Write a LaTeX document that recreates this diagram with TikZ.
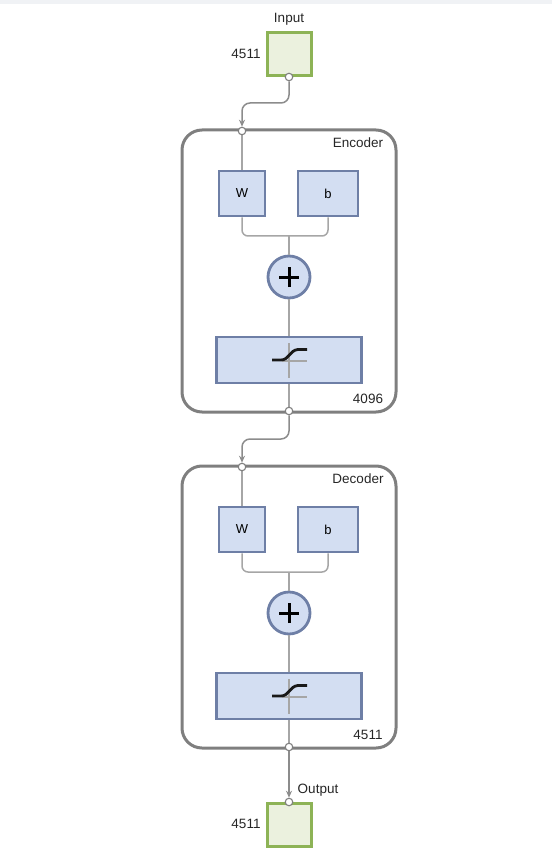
\documentclass[tikz,border=0pt]{standalone}
\usepackage{fontspec}
\setmainfont{Liberation Sans}
\usetikzlibrary{arrows.meta}
\definecolor{iofill}{HTML}{EBF1DE}
\definecolor{ioedge}{HTML}{8DB356}
\definecolor{bfill}{HTML}{D3DEF2}
\definecolor{bedge}{HTML}{6E7FA6}
\definecolor{frame}{HTML}{7F7F7F}
\definecolor{wire}{HTML}{A6A6A6}
\definecolor{topbar}{HTML}{F0F2F5}
\tikzset{
  x=1pt,y=-1pt,
  iobox/.style={draw=ioedge,fill=iofill,line width=3pt,minimum width=44pt,minimum height=43pt,inner sep=0pt},
  layerbox/.style={draw=frame,line width=3pt,rounded corners=20pt,inner sep=0pt},
  blk/.style={draw=bedge,fill=bfill,line width=2.8pt,inner sep=0pt,font=\fontsize{13pt}{15pt}\selectfont},
  plusnode/.style={circle,draw=bedge,fill=bfill,line width=2.8pt,minimum size=42pt,inner sep=0pt},
  wireline/.style={draw=wire,line width=1.5pt},
  conn/.style={draw=frame!90,line width=1.5pt,-{Stealth[length=7pt,width=6pt]}},
  port/.style={circle,draw=frame,fill=white,line width=1.1pt,minimum size=7.5pt,inner sep=0pt},
  lbl/.style={font=\fontsize{13.5pt}{15pt}\selectfont,text=black!85,inner sep=0pt}
}
\begin{document}
\begin{tikzpicture}
\useasboundingbox (0,0) rectangle (552,866);
\fill[topbar] (0,0) rectangle (552,4);
% Input
\node[iobox] (in) at (289,54) {};
\node[lbl] (inlbl) at (289,19) {Input};
\node[lbl] (insz) at (246,54) {4511};
% Output
\node[iobox] (out) at (289,825) {};
\node[lbl] (outlbl) at (318,790) {Output};
\node[lbl] (outsz) at (246,824) {4511};

% layers
\foreach \nm/\dy/\title/\sz in {enc/0/Encoder/4096, dec/336/Decoder/4511}{
  \begin{scope}[yshift=-\dy pt]
  \node[layerbox,minimum width=214pt,minimum height=282pt] (\nm box) at (289,271) {};
  \node[lbl] (\nm title) at (358,143) {\title};
  \node[lbl] (\nm size) at (368,399) {\sz};
  \node[blk,minimum width=46pt,minimum height=45pt] (\nm W) at (242,193.5) {W};
  \node[blk,minimum width=60pt,minimum height=45pt] (\nm b) at (328,193.5) {b};
  \node[plusnode] (\nm plus) at (289,277) {};
  \node[blk,minimum width=145pt,minimum height=46pt] (\nm tf) at (289,360) {};
  \coordinate (\nm join) at (289,236);
  \coordinate (\nm inport) at (242,131);
  \coordinate (\nm outport) at (289,411);
  % wires
  \draw[wireline,rounded corners=6pt] (\nm W.south) |- (\nm join) -| (\nm b.south);
  \draw[wireline] (\nm join) -- (\nm plus.north);
  \draw[wireline] (\nm plus.south) -- (\nm tf.north);
  \draw[wireline] (\nm tf.south) -- (\nm outport);
  \draw[wireline] (\nm inport) -- (\nm W.north);
  % plus sign
  \draw[black,line width=3pt] ([xshift=-10pt]\nm plus.center) -- ([xshift=10pt]\nm plus.center)
        ([yshift=-10pt]\nm plus.center) -- ([yshift=10pt]\nm plus.center);
  % transfer symbol
  \draw[wire,line width=2.4pt] (289,343) -- (289,378) (282,361) -- (307,361);
  \draw[black!90,line width=2.8pt] (272,360) -- (281,360) .. controls (289,360) and (290,350) .. (298,349.5) -- (307,349.5);
  \end{scope}
}
% ports
\node[port] (p1) at (in.south) {};
\node[port] (p2) at (encinport) {};
\node[port] (p3) at (encoutport) {};
\node[port] (p4) at (decinport) {};
\node[port] (p5) at (decoutport) {};
\node[port] (p6) at (out.north) {};
% connectors
\draw[conn,rounded corners=8pt] (p1.south) -- (289,103) -- (242,103) -- (p2.north);
\draw[conn,rounded corners=8pt] (p3.south) -- (289,439) -- (242,439) -- (p4.north);
\draw[conn] (p5.south) -- (p6.north);
\end{tikzpicture}
\end{document}
